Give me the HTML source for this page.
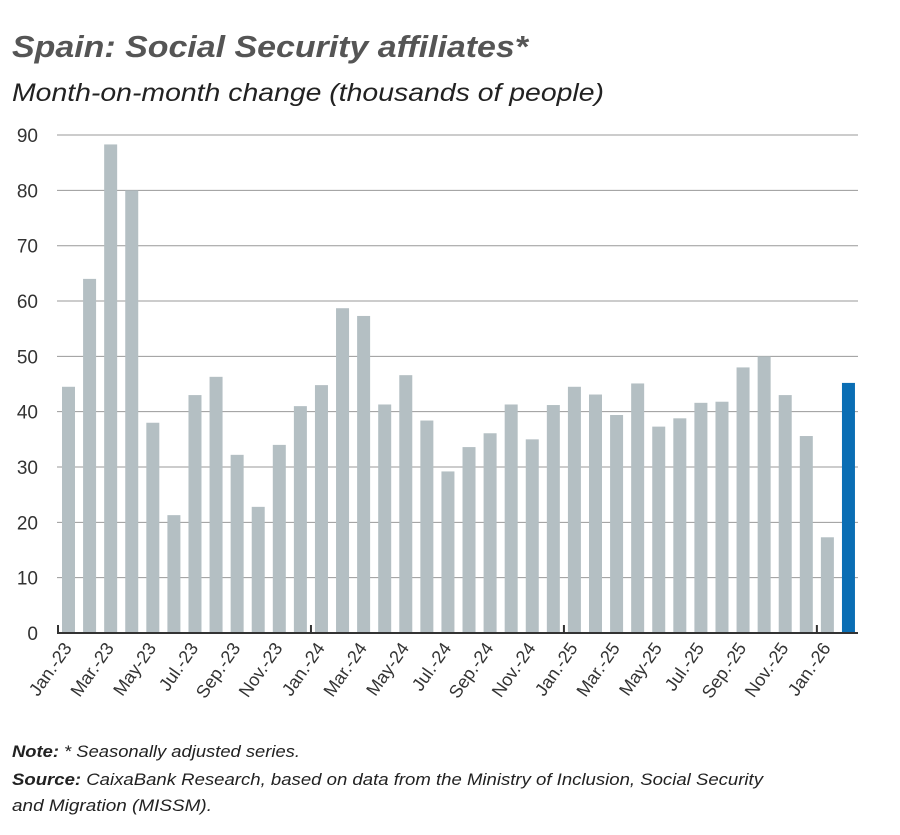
<!DOCTYPE html>
<html><head><meta charset="utf-8"><style>
body{margin:0;background:#fff;width:900px;height:830px;overflow:hidden;font-family:"Liberation Sans",sans-serif;}
</style></head><body>
<svg width="900" height="830" xmlns="http://www.w3.org/2000/svg" font-family="Liberation Sans, sans-serif">
<text x="12" y="57" font-size="31" font-weight="bold" font-style="italic" fill="#555" textLength="516" lengthAdjust="spacingAndGlyphs">Spain: Social Security affiliates*</text>
<text x="12" y="101" font-size="25" font-style="italic" fill="#222" textLength="592" lengthAdjust="spacingAndGlyphs">Month-on-month change (thousands of people)</text>
<g id="grid" stroke="#999" stroke-width="1"></g>
<g id="bars"></g>
<g id="ylab" font-size="19" fill="#333" text-anchor="end"></g>
<line x1="57" y1="633" x2="858" y2="633" stroke="#333" stroke-width="2"/>
<g id="ticks" stroke="#333" stroke-width="2"></g>
<g id="xlab" font-size="18" fill="#333" text-anchor="end"></g>
<text x="12" y="757" font-size="17" font-style="italic" fill="#222" textLength="288" lengthAdjust="spacingAndGlyphs"><tspan font-weight="bold">Note:</tspan> * Seasonally adjusted series.</text>
<text x="12" y="785" font-size="17" font-style="italic" fill="#222" textLength="751" lengthAdjust="spacingAndGlyphs"><tspan font-weight="bold">Source:</tspan> CaixaBank Research, based on data from the Ministry of Inclusion, Social Security</text>
<text x="12" y="811" font-size="17" font-style="italic" fill="#222" textLength="200" lengthAdjust="spacingAndGlyphs">and Migration (MISSM).</text>
</svg>
<script>
const ns="http://www.w3.org/2000/svg";
function el(p,t,a,txt){const e=document.createElementNS(ns,t);for(const k in a)e.setAttribute(k,a[k]);if(txt)e.textContent=txt;document.getElementById(p).appendChild(e);}
const y0=633,s=55.33/10;
for(let v=10;v<=90;v+=10){el('grid','line',{x1:57,x2:858,y1:y0-v*s,y2:y0-v*s});}
for(let v=0;v<=90;v+=10){el('ylab','text',{x:38,y:y0-v*s+7},String(v));}
const vals=[44.5,64,88.3,80,38,21.3,43,46.3,32.2,22.8,34,41,44.8,58.7,57.3,41.3,46.6,38.4,29.2,33.6,36.1,41.3,35,41.2,44.5,43.1,39.4,45.1,37.3,38.8,41.6,41.8,48,50,43,35.6,17.3,45.2];
const st=21.08;
vals.forEach((v,i)=>{const x=58+st*i+4;el('bars','rect',{x:x,y:y0-v*s,width:13,height:v*s,fill:i==37?'#0a6eb4':'#b4bfc3'});});
[58,58+12*st,58+24*st,58+36*st].forEach(x=>el('ticks','line',{x1:x,x2:x,y1:625,y2:633}));
const m=['Jan.','Mar.','May','Jul.','Sep.','Nov.'];
for(let i=0;i<38;i+=2){const yr=23+Math.floor(i/12);const lab=m[(i%12)/2]+'-'+yr;const cx=58+st*i+10.5;
el('xlab','text',{x:cx+4,y:648,transform:`rotate(-55 ${cx+4} 648)`},lab);}
</script>
</body></html>
